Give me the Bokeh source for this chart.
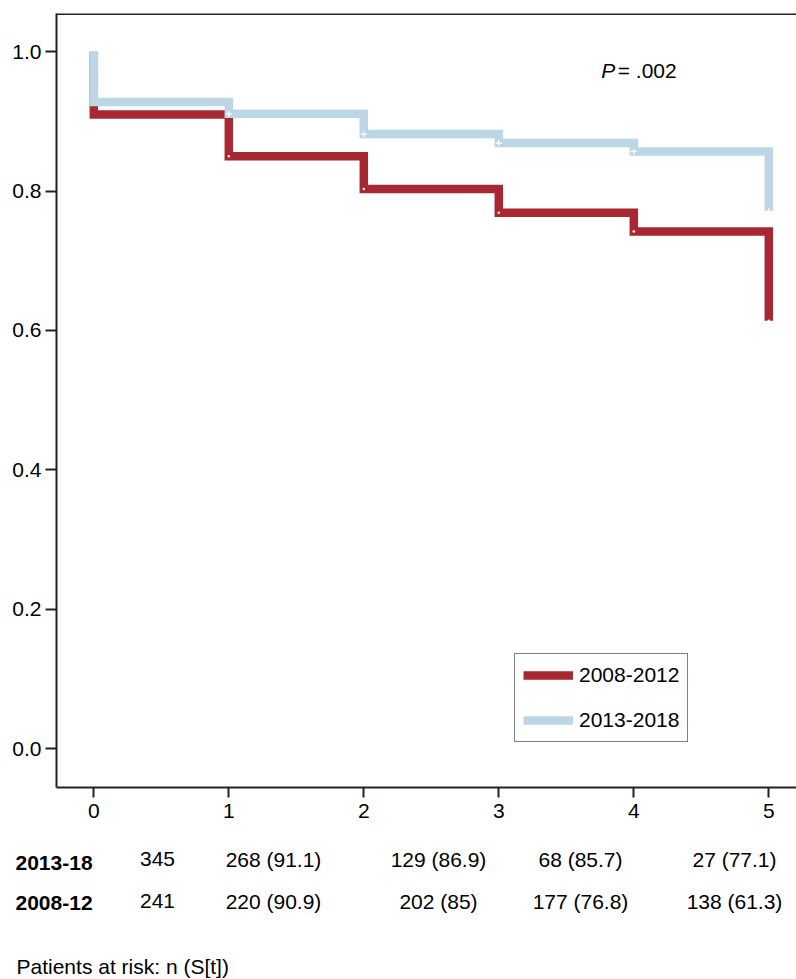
from bokeh.plotting import figure
from bokeh.models import Range1d, FixedTicker, PrintfTickFormatter, Span, Legend, LegendItem
from bokeh.embed import file_html
from bokeh.resources import INLINE
from bokeh.core.properties import value

# ---------------- data ----------------
years = [0, 1, 2, 3, 4, 5]
start_survival = 1.0
# survival level after the drop at each year (interval [t, t+1), last = value at year 5)
surv_2008_2012 = [0.910, 0.850, 0.803, 0.769, 0.742, 0.614]
surv_2013_2018 = [0.928, 0.911, 0.882, 0.869, 0.857, 0.771]
group_labels = ["2008-2012", "2013-2018"]
y_ticks = [0.0, 0.2, 0.4, 0.6, 0.8, 1.0]
x_ticks = [0, 1, 2, 3, 4, 5]
p_symbol = "P"
p_rest = "= .002"
risk_rows = ["2013-18", "2008-12"]
risk_2013_18 = ["345", "268 (91.1)", "129 (86.9)", "68 (85.7)", "27 (77.1)"]
risk_2008_12 = ["241", "220 (90.9)", "202 (85)", "177 (76.8)", "138 (61.3)"]
footer_text = "Patients at risk: n (S[t])"

# ---------------- layout / style ----------------
FONT = "Liberation Sans"
FS = "21px"
RED = "#a72732"
BLUE = "#bcd6e6"
AXC = "#222222"
W, H = 796, 979
FRAME_L, FRAME_R, FRAME_T, FRAME_B = 56, 796, 13, 787
X0_PX, PX_PER_YEAR = 93.3, 135.0      # page px of year 0, px per year
Y0_PX, PX_PER_UNIT = 748.0, 696.67    # page px of survival 0, px per unit


def px_to_x(px):
    return (px - X0_PX) / PX_PER_YEAR


def py_to_y(py):
    return (Y0_PX - py) / PX_PER_UNIT


p = figure(width=W, height=H, output_backend="svg", toolbar_location=None,
           x_range=Range1d(px_to_x(FRAME_L), px_to_x(FRAME_R)),
           y_range=Range1d(py_to_y(FRAME_B), py_to_y(FRAME_T)),
           min_border_left=FRAME_L, min_border_right=W - FRAME_R,
           min_border_top=FRAME_T, min_border_bottom=H - FRAME_B)
p.outline_line_color = None
p.grid.visible = False

step_x = [years[0]] + years
r_red = p.step(step_x, [start_survival] + surv_2008_2012, mode="after",
               line_color=RED, line_width=8.5, line_join="miter")
r_blue = p.step(step_x, [start_survival] + surv_2013_2018, mode="after",
                line_color=BLUE, line_width=8.5, line_join="miter")
# censor marks
p.scatter(years[1:], surv_2013_2018[1:], marker="cross", size=6, line_color="white", line_width=1.2)
p.scatter(years[1:], surv_2008_2012[1:], marker="circle", size=2.5, fill_color="white", line_color=None)

# axes
for ax in (p.xaxis[0], p.yaxis[0]):
    ax.axis_line_color = AXC
    ax.axis_line_width = 2
    ax.major_tick_line_color = AXC
    ax.major_tick_line_width = 2
    ax.major_tick_in = 0
    ax.minor_tick_line_color = None
    ax.major_label_text_font = FONT
    ax.major_label_text_font_size = FS
    ax.major_label_text_color = "black"
p.yaxis.ticker = FixedTicker(ticks=y_ticks)
p.yaxis.formatter = PrintfTickFormatter(format="%.1f")
p.yaxis.major_tick_out = 11
p.yaxis.major_label_standoff = 4
p.xaxis.ticker = FixedTicker(ticks=x_ticks)
p.xaxis.major_tick_out = 10
p.xaxis.major_label_standoff = 6

p.add_layout(Span(location=py_to_y(FRAME_T + 0.5), dimension="width", line_color=AXC, line_width=2))

# P value
p.text(x=[px_to_x(600.7)], y=[py_to_y(70)], text=[p_symbol], text_font=value(FONT),
       text_font_size=FS, text_font_style="italic", text_align="left", text_baseline="middle")
p.text(x=[px_to_x(600.7)], y=[py_to_y(70)], text=[p_rest], x_offset=16.5, text_font=value(FONT),
       text_font_size=FS, text_align="left", text_baseline="middle")

legend = Legend(items=[LegendItem(label=group_labels[0], renderers=[r_red]),
                       LegendItem(label=group_labels[1], renderers=[r_blue])],
                location=(458, 45), margin=0, padding=8, spacing=19,
                glyph_width=50, glyph_height=26, label_height=26, label_standoff=6,
                label_text_font=FONT, label_text_font_size=FS, label_text_color="black",
                border_line_color="black", border_line_width=1.5,
                background_fill_color="white", background_fill_alpha=1)
p.add_layout(legend)

# ---------------- risk table (drawn below the frame, not clipped) ----------------
col_centers_px = [157, 273, 438, 580, 734]
col_x = [px_to_x(c) for c in col_centers_px]
row_num_y = [py_to_y(858.5), py_to_y(900.5)]
row_lab_y = [py_to_y(862.5), py_to_y(902.5)]
lab_x = px_to_x(15)

p.text(x=[lab_x] * 2, y=row_lab_y, text=risk_rows, text_font=value(FONT),
       text_font_size=FS, text_font_style="bold", text_align="left", text_baseline="middle",
       level="annotation")
p.text(x=col_x, y=[row_num_y[0]] * len(risk_2013_18), text=risk_2013_18, text_font=value(FONT),
       text_font_size=FS, text_align="center", text_baseline="middle", level="annotation")
p.text(x=col_x, y=[row_num_y[1]] * len(risk_2008_12), text=risk_2008_12, text_font=value(FONT),
       text_font_size=FS, text_align="center", text_baseline="middle", level="annotation")
p.text(x=[px_to_x(16)], y=[py_to_y(966)], text=[footer_text], text_font=value(FONT),
       text_font_size=FS, text_align="left", text_baseline="middle", level="annotation")

open("out.html", "w").write(file_html(p, INLINE))
